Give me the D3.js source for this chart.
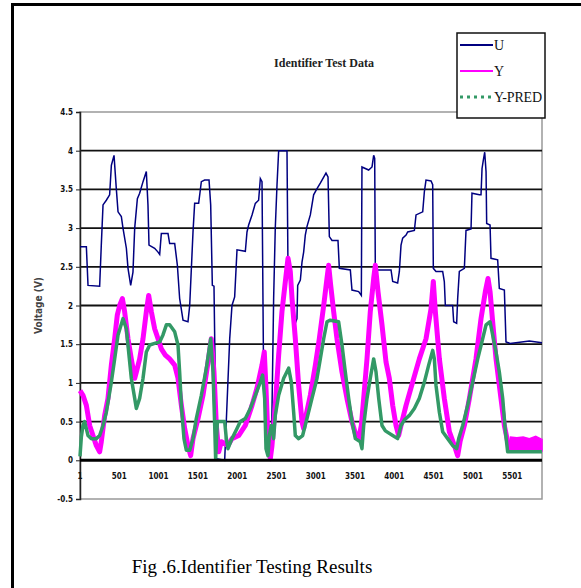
<!DOCTYPE html>
<html lang="en">
<head>
<meta charset="UTF-8">
<title>Identifier Test Data</title>
<style>
  body { margin: 0; background: #fff; }
  .tick-y { font: bold 8px "Liberation Sans Narrow", "DejaVu Sans Condensed", Arial, sans-serif; }
  .tick-x { font: bold 8px "Liberation Sans Narrow", "DejaVu Sans Condensed", Arial, sans-serif; }
</style>
</head>
<body>
<div id="chart"></div>
<script src="https://d3js.org/d3.v7.min.js"></script>
<script>
// samples along x, values in volts
var yTicks = [-0.5, 0, 0.5, 1, 1.5, 2, 2.5, 3, 3.5, 4, 4.5];
var xTickLabels = [1, 501, 1001, 1501, 2001, 2501, 3001, 3501, 4001, 4501, 5001, 5501];
var seriesNames = ["U", "Y", "Y-PRED"];

var uPoints = [
  [1, 2.76], [82, 2.76], [103, 2.26], [251, 2.25], [272, 2.78], [294, 3.3], [336, 3.36], [378, 3.43],
  [400, 3.81], [434, 3.94], [463, 3.51], [485, 3.21], [527, 3.15], [548, 3.0], [591, 2.74], [612, 2.48],
  [646, 2.26], [675, 2.43], [697, 3.0], [731, 3.38], [760, 3.45], [803, 3.6], [845, 3.73], [866, 3.3],
  [879, 2.78], [951, 2.74], [994, 2.69], [1015, 2.66], [1036, 2.93], [1121, 2.93], [1142, 2.8], [1206, 2.8],
  [1240, 2.52], [1269, 2.09], [1312, 1.81], [1375, 1.79], [1397, 2.0], [1439, 2.95], [1460, 3.32], [1511, 3.32],
  [1545, 3.6], [1587, 3.62], [1643, 3.62], [1664, 3.3], [1685, 2.26], [1706, 2.25], [1736, 0.02], [1842, 0.0],
  [1906, 1.57], [1935, 2.0], [1969, 2.11], [1999, 2.72], [2105, 2.7], [2126, 2.95], [2147, 3.04], [2190, 3.17],
  [2232, 3.32], [2274, 3.36], [2296, 3.64], [2317, 3.6], [2338, 1.0], [2359, 0.5], [2410, 0.02], [2436, 0.1],
  [2465, 2.09], [2486, 3.0], [2508, 3.56], [2529, 4.0], [2635, 4.0], [2648, 2.44], [2677, 2.44], [2699, 2.05],
  [2720, 1.92], [2741, 1.77], [2762, 1.83], [2771, 2.26], [2805, 2.33], [2826, 2.56], [2847, 2.69], [2868, 2.91],
  [2889, 3.02], [2932, 3.17], [2974, 3.43], [3017, 3.51], [3059, 3.58], [3102, 3.66], [3131, 3.71], [3157, 3.66],
  [3174, 2.89], [3208, 2.84], [3284, 2.84], [3301, 2.48], [3441, 2.46], [3462, 2.2], [3547, 2.18], [3581, 2.13],
  [3589, 3.79], [3674, 3.75], [3717, 3.79], [3738, 3.94], [3751, 3.9], [3759, 2.46], [3959, 2.46], [3980, 2.31],
  [4043, 2.29], [4065, 2.44], [4086, 2.78], [4107, 2.87], [4150, 2.91], [4171, 2.95], [4256, 2.97], [4277, 3.17],
  [4362, 3.21], [4383, 3.47], [4404, 3.62], [4468, 3.61], [4489, 3.56], [4497, 2.48], [4531, 2.44], [4616, 2.44],
  [4637, 2.31], [4650, 2.0], [4743, 2.0], [4756, 1.79], [4794, 1.77], [4807, 2.09], [4828, 2.44], [4892, 2.48],
  [4913, 2.97], [4977, 2.99], [4989, 3.45], [5083, 3.43], [5104, 3.43], [5117, 3.77], [5134, 3.88], [5151, 3.98],
  [5168, 3.73], [5176, 3.06], [5219, 3.04], [5231, 2.61], [5316, 2.59], [5337, 2.22], [5401, 2.2], [5422, 1.53],
  [5473, 1.51], [5719, 1.54], [5880, 1.52]
];

var yPoints = [
  [1, 0.9], [39, 0.84], [82, 0.71], [124, 0.45], [166, 0.32], [209, 0.19], [251, 0.11], [272, 0.24],
  [315, 0.58], [357, 0.8], [400, 1.23], [442, 1.57], [476, 1.88], [506, 2.0], [540, 2.09], [569, 1.92],
  [612, 1.57], [654, 1.31], [697, 1.06], [718, 1.14], [760, 1.31], [803, 1.57], [845, 1.92], [875, 2.13],
  [909, 1.92], [951, 1.7], [994, 1.57], [1036, 1.44], [1087, 1.36], [1142, 1.31], [1206, 1.23], [1248, 1.06],
  [1291, 0.71], [1333, 0.41], [1375, 0.19], [1409, 0.06], [1439, 0.28], [1503, 0.54], [1566, 0.84], [1630, 1.27],
  [1672, 1.57], [1706, 1.14], [1736, 0.45], [1766, 0.11], [1800, 0.24], [1884, 0.19], [1935, 0.28], [2020, 0.32],
  [2105, 0.45], [2190, 0.71], [2253, 0.93], [2317, 1.23], [2346, 1.4], [2368, 0.93], [2393, 0.28], [2423, 0.02],
  [2444, 0.19], [2486, 0.71], [2529, 1.36], [2571, 1.92], [2614, 2.31], [2648, 2.61], [2677, 2.44], [2699, 2.09],
  [2741, 1.57], [2783, 0.97], [2826, 0.5], [2847, 0.41], [2877, 0.58], [2932, 0.84], [2996, 1.23], [3046, 1.57],
  [3102, 2.0], [3144, 2.35], [3165, 2.52], [3191, 2.26], [3229, 1.92], [3271, 1.57], [3335, 1.14], [3398, 0.8],
  [3462, 0.5], [3513, 0.32], [3547, 0.28], [3581, 0.45], [3611, 0.8], [3653, 1.31], [3695, 1.92], [3738, 2.35],
  [3759, 2.52], [3793, 2.18], [3844, 1.75], [3895, 1.27], [3937, 1.06], [3980, 0.71], [4022, 0.45], [4056, 0.32],
  [4086, 0.45], [4150, 0.71], [4234, 1.01], [4319, 1.31], [4404, 1.57], [4468, 1.96], [4497, 2.31], [4523, 1.92],
  [4574, 1.31], [4637, 0.8], [4701, 0.37], [4765, 0.19], [4807, 0.06], [4837, 0.24], [4892, 0.45], [4956, 0.8],
  [5040, 1.31], [5104, 1.83], [5159, 2.18], [5193, 2.35], [5219, 2.18], [5252, 1.79], [5295, 1.31], [5358, 0.8],
  [5401, 0.45], [5443, 0.24], [5473, 0.15]
];

// noisy tail of Y: [sample, low, high]
var yTailBand = [
  [5465, 0.12, 0.2], [5480, 0.12, 0.3], [5560, 0.12, 0.29], [5640, 0.13, 0.3], [5720, 0.12, 0.28],
  [5800, 0.12, 0.31], [5880, 0.12, 0.27]
];

var predPoints = [
  [1, 0.05], [18, 0.3], [39, 0.45], [60, 0.5], [103, 0.32], [145, 0.28], [209, 0.28], [251, 0.32],
  [294, 0.45], [336, 0.62], [400, 1.01], [442, 1.31], [485, 1.62], [548, 1.83], [591, 1.7], [620, 1.4],
  [654, 1.06], [697, 0.8], [718, 0.67], [760, 0.8], [803, 1.06], [845, 1.4], [888, 1.49], [951, 1.51],
  [1015, 1.53], [1057, 1.62], [1100, 1.75], [1142, 1.75], [1206, 1.66], [1248, 1.49], [1269, 1.14], [1291, 0.71],
  [1324, 0.28], [1354, 0.13], [1397, 0.13], [1439, 0.28], [1481, 0.54], [1545, 0.84], [1609, 1.19], [1664, 1.57],
  [1694, 1.14], [1715, 0.45], [1727, 0.02], [1749, 0.5], [1842, 0.5], [1863, 0.28], [1884, 0.15], [1935, 0.28],
  [1999, 0.41], [2041, 0.5], [2105, 0.54], [2168, 0.67], [2232, 0.84], [2296, 1.01], [2325, 1.1], [2351, 0.8],
  [2368, 0.15], [2393, 0.06], [2410, 0.32], [2436, 0.45], [2465, 0.28], [2486, 0.58], [2529, 0.84], [2593, 1.06],
  [2656, 1.19], [2690, 1.01], [2720, 0.62], [2741, 0.32], [2783, 0.28], [2834, 0.32], [2889, 0.54], [2953, 0.8],
  [3017, 1.06], [3059, 1.31], [3102, 1.57], [3144, 1.79], [3186, 1.81], [3292, 1.79], [3335, 1.49], [3377, 1.14],
  [3420, 0.8], [3462, 0.5], [3505, 0.28], [3568, 0.24], [3589, 0.15], [3611, 0.45], [3653, 0.8], [3695, 1.06],
  [3738, 1.31], [3768, 1.14], [3802, 0.8], [3844, 0.45], [3887, 0.38], [3980, 0.32], [4043, 0.28], [4086, 0.45],
  [4128, 0.52], [4192, 0.58], [4256, 0.67], [4319, 0.8], [4383, 1.01], [4438, 1.23], [4489, 1.42], [4510, 1.31],
  [4531, 0.97], [4574, 0.62], [4616, 0.37], [4680, 0.28], [4743, 0.19], [4794, 0.15], [4820, 0.28], [4871, 0.45],
  [4934, 0.71], [4998, 1.01], [5062, 1.31], [5125, 1.57], [5168, 1.75], [5219, 1.79], [5252, 1.62], [5295, 1.4],
  [5337, 1.14], [5380, 0.8], [5414, 0.37], [5443, 0.11], [5880, 0.11]
];

var colors = { "U": "#000080", "Y": "#ff00ff", "Y-PRED": "#339966" };

var W = 581, H = 588;
var plot = { left: 80, right: 542, top: 112, bottom: 499 };

var svg = d3.select("#chart").append("svg")
    .attr("width", W)
    .attr("height", H);

// outer frame (right and bottom edges fall outside the picture)
svg.append("rect")
    .attr("x", 12.5).attr("y", 4.5)
    .attr("width", 620).attr("height", 620)
    .attr("fill", "none")
    .attr("stroke", "#000")
    .attr("stroke-width", 3);

var x = d3.scaleLinear().domain([1, 5880]).range([plot.left, plot.right]);
var y = d3.scaleLinear().domain([-0.5, 4.5]).range([plot.bottom, plot.top]);

// plot area border
svg.append("rect")
    .attr("x", plot.left).attr("y", plot.top)
    .attr("width", plot.right - plot.left).attr("height", plot.bottom - plot.top)
    .attr("fill", "#fff")
    .attr("stroke", "#999")
    .attr("stroke-width", 1.5);

// gridlines
svg.append("g")
  .selectAll("line")
  .data(yTicks.filter(function(d) { return d > -0.5 && d < 4.5 && d !== 0; }))
  .enter().append("line")
    .attr("x1", plot.left).attr("x2", plot.right)
    .attr("y1", function(d) { return y(d); })
    .attr("y2", function(d) { return y(d); })
    .attr("stroke", "#111")
    .attr("stroke-width", 1.8);

// y axis
var yAxis = svg.append("g")
    .attr("transform", "translate(" + plot.left + ",0)")
    .call(d3.axisLeft(y).tickValues(yTicks).tickSize(4).tickPadding(3)
      .tickFormat(function(d) { return String(d); }));
yAxis.select(".domain").attr("stroke", "#222").attr("stroke-width", 1.5);
yAxis.selectAll(".tick line").attr("stroke", "#222");
yAxis.selectAll(".tick text").attr("class", "tick-y").attr("fill", "#111");

// axis title
svg.append("text")
    .attr("transform", "translate(42," + ((plot.top + plot.bottom) / 2) + ") rotate(-90)")
    .attr("text-anchor", "middle")
    .style("font", "bold 10px 'Liberation Sans Narrow', 'DejaVu Sans Condensed', Arial, sans-serif")
    .attr("fill", "#444")
    .text("Voltage (V)");

// series
var line = d3.line()
    .x(function(d) { return x(d[0]); })
    .y(function(d) { return y(d[1]); });

var area = d3.area()
    .x(function(d) { return x(d[0]); })
    .y0(function(d) { return y(d[1]); })
    .y1(function(d) { return y(d[2]); });

svg.append("path")
    .datum(uPoints)
    .attr("d", line)
    .attr("fill", "none")
    .attr("stroke", colors["U"])
    .attr("stroke-width", 1.5);

svg.append("path")
    .datum(yPoints)
    .attr("d", line)
    .attr("fill", "none")
    .attr("stroke", colors["Y"])
    .attr("stroke-width", 5)
    .attr("stroke-linejoin", "round");

svg.append("path")
    .datum(yTailBand)
    .attr("d", area)
    .attr("fill", colors["Y"])
    .attr("stroke", colors["Y"])
    .attr("stroke-width", 1.5);

svg.append("path")
    .datum(predPoints)
    .attr("d", line)
    .attr("fill", "none")
    .attr("stroke", colors["Y-PRED"])
    .attr("stroke-width", 3.5)
    .attr("stroke-linejoin", "round");

// x axis along zero
svg.append("line")
    .attr("x1", plot.left).attr("x2", plot.right)
    .attr("y1", y(0)).attr("y2", y(0))
    .attr("stroke", "#000")
    .attr("stroke-width", 3);

svg.append("g")
  .selectAll("text")
  .data(xTickLabels)
  .enter().append("text")
    .attr("class", "tick-x")
    .attr("x", function(d) { return x(d); })
    .attr("y", y(0) + 19)
    .attr("text-anchor", "middle")
    .attr("fill", "#111")
    .text(function(d) { return d; });

// title
svg.append("text")
    .attr("x", 324).attr("y", 67)
    .attr("text-anchor", "middle")
    .style("font", "bold 12px 'Liberation Serif', 'Times New Roman', serif")
    .attr("fill", "#222")
    .text("Identifier Test Data");

// legend
var lg = svg.append("g").attr("transform", "translate(457,33)");
lg.append("rect")
    .attr("width", 88).attr("height", 85)
    .attr("fill", "#fff")
    .attr("stroke", "#111")
    .attr("stroke-width", 1.5);
var rows = lg.selectAll("g.row")
  .data(seriesNames)
  .enter().append("g")
    .attr("class", "row")
    .attr("transform", function(d, i) { return "translate(0," + (12 + i * 26) + ")"; });
rows.append("line")
    .attr("x1", 3).attr("x2", 36)
    .attr("stroke", function(d) { return colors[d]; })
    .attr("stroke-width", function(d) { return d === "Y-PRED" ? 3 : 2; })
    .attr("stroke-dasharray", function(d) { return d === "Y-PRED" ? "3,4" : null; });
rows.append("text")
    .attr("x", 37).attr("y", 5)
    .style("font", "14px 'Liberation Serif', 'Times New Roman', serif")
    .attr("textLength", function(d) { return d === "Y-PRED" ? 48 : null; })
    .attr("fill", "#111")
    .text(function(d) { return d; });

// caption
svg.append("text")
    .attr("x", 252).attr("y", 573)
    .attr("text-anchor", "middle")
    .style("font", "19px 'Liberation Serif', 'Times New Roman', serif")
    .attr("fill", "#000")
    .text("Fig .6.Identifier Testing Results");
</script>
</body>
</html>
